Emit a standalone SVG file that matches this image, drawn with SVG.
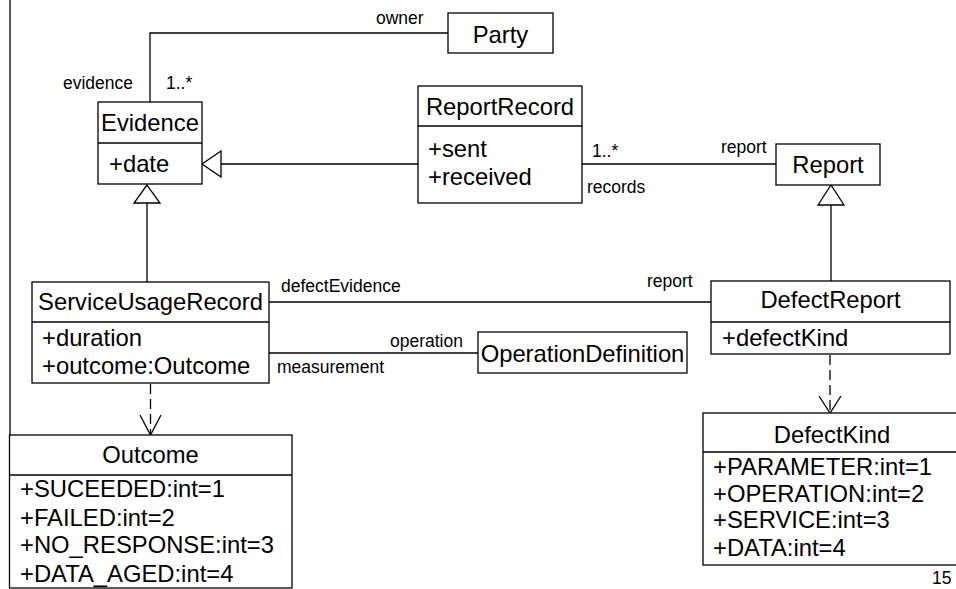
<svg xmlns="http://www.w3.org/2000/svg" width="956" height="589" viewBox="0 0 956 589">
  <defs>
    <style>
      .box { fill: #fff; stroke: #000; stroke-width: 1.3; }
      .ln { fill: none; stroke: #000; stroke-width: 1.3; }
      .dash { fill: none; stroke: #000; stroke-width: 1.3; stroke-dasharray: 10 5; }
      .tri { fill: #fff; stroke: #000; stroke-width: 1.3; }
      .t { font-family: "Liberation Sans", Arial, sans-serif; font-size: 23.8px; fill: #000; }
      .c { text-anchor: middle; }
      .lbl { font-family: "Liberation Sans", Arial, sans-serif; font-size: 17.5px; fill: #000; }
    </style>
  </defs>

  <rect width="956" height="589" fill="#fff"/>

  <!-- left frame rule -->
  <line class="ln" x1="10" y1="0" x2="10" y2="436"/>

  <!-- associations, generalizations and dependencies -->
  <g id="connectors">
    <!-- Evidence - Party (owner) -->
    <polyline class="ln" points="150,102 150,33 448,33"/>
    <!-- ReportRecord -> Evidence -->
    <line class="ln" x1="418" y1="164" x2="221" y2="164"/>
    <polygon class="tri" points="202,164 221,151 221,177"/>
    <!-- ReportRecord - Report -->
    <line class="ln" x1="582" y1="164" x2="776" y2="164"/>
    <!-- DefectReport -> Report -->
    <line class="ln" x1="831" y1="281" x2="831" y2="205"/>
    <polygon class="tri" points="831,185 818,205 844,205"/>
    <!-- ServiceUsageRecord -> Evidence -->
    <line class="ln" x1="147" y1="282" x2="147" y2="203"/>
    <polygon class="tri" points="147,185 134,203 160,203"/>
    <!-- ServiceUsageRecord - DefectReport -->
    <line class="ln" x1="269" y1="302" x2="711" y2="302"/>
    <!-- ServiceUsageRecord - OperationDefinition -->
    <line class="ln" x1="269" y1="353" x2="478" y2="353"/>
    <!-- ServiceUsageRecord ..> Outcome -->
    <line class="dash" x1="150.5" y1="384" x2="150.5" y2="434"/>
    <polyline class="ln" points="140,415 150.5,435 161,415"/>
    <!-- DefectReport ..> DefectKind -->
    <line class="dash" x1="830" y1="355" x2="830" y2="412"/>
    <polyline class="ln" points="819,396 830,413 841,396"/>

    <!-- role names and multiplicities -->
    <text class="lbl" x="376" y="24">owner</text>
    <text class="lbl" x="63" y="89">evidence</text>
    <text class="lbl" x="166" y="89">1..*</text>
    <text class="lbl" x="592" y="157">1..*</text>
    <text class="lbl" x="587" y="193">records</text>
    <text class="lbl" x="721" y="153">report</text>
    <text class="lbl" x="281" y="292">defectEvidence</text>
    <text class="lbl" x="647" y="287">report</text>
    <text class="lbl" x="390" y="347">operation</text>
    <text class="lbl" x="277" y="373">measurement</text>
  </g>

  <g id="party">
    <rect class="box" x="448" y="13" width="105" height="40"/>
    <text class="t c" x="500.5" y="43">Party</text>
  </g>

  <g id="evidence">
    <rect class="box" x="98" y="102" width="104" height="82"/>
    <line class="ln" x1="98" y1="143" x2="202" y2="143"/>
    <text class="t c" x="150" y="131">Evidence</text>
    <text class="t" x="109" y="172">+date</text>
  </g>

  <g id="report-record">
    <rect class="box" x="418" y="86" width="164" height="117"/>
    <line class="ln" x1="418" y1="126" x2="582" y2="126"/>
    <text class="t c" x="500" y="115">ReportRecord</text>
    <text class="t" x="428" y="157">+sent</text>
    <text class="t" x="428" y="185">+received</text>
  </g>

  <g id="report">
    <rect class="box" x="776" y="144" width="104" height="41"/>
    <text class="t c" x="828" y="173">Report</text>
  </g>

  <g id="service-usage-record">
    <rect class="box" x="32" y="282" width="237" height="101"/>
    <line class="ln" x1="32" y1="322" x2="269" y2="322"/>
    <text class="t c" x="150.5" y="310">ServiceUsageRecord</text>
    <text class="t" x="42" y="346">+duration</text>
    <text class="t" x="42" y="374">+outcome:Outcome</text>
  </g>

  <g id="operation-definition">
    <rect class="box" x="478" y="332" width="209" height="41"/>
    <text class="t c" x="582.5" y="362">OperationDefinition</text>
  </g>

  <g id="defect-report">
    <rect class="box" x="711" y="281" width="239" height="73"/>
    <line class="ln" x1="711" y1="322" x2="950" y2="322"/>
    <text class="t c" x="830.5" y="308">DefectReport</text>
    <text class="t" x="722" y="346">+defectKind</text>
  </g>

  <g id="outcome">
    <rect class="box" x="9.5" y="435" width="282.5" height="153"/>
    <line class="ln" x1="9.5" y1="475" x2="292" y2="475"/>
    <text class="t c" x="150.5" y="463">Outcome</text>
    <text class="t" x="20" y="497">+SUCEEDED:int=1</text>
    <text class="t" x="20" y="526">+FAILED:int=2</text>
    <text class="t" x="20" y="553">+NO_RESPONSE:int=3</text>
    <text class="t" x="20" y="582">+DATA_AGED:int=4</text>
  </g>

  <g id="defect-kind">
    <rect class="box" x="703" y="413" width="270" height="152"/>
    <line class="ln" x1="703" y1="452" x2="973" y2="452"/>
    <text class="t c" x="832" y="443">DefectKind</text>
    <text class="t" x="713" y="475">+PARAMETER:int=1</text>
    <text class="t" x="713" y="502">+OPERATION:int=2</text>
    <text class="t" x="713" y="528">+SERVICE:int=3</text>
    <text class="t" x="713" y="556">+DATA:int=4</text>
  </g>

  <!-- page number -->
  <text class="lbl" x="932" y="584">15</text>
</svg>
